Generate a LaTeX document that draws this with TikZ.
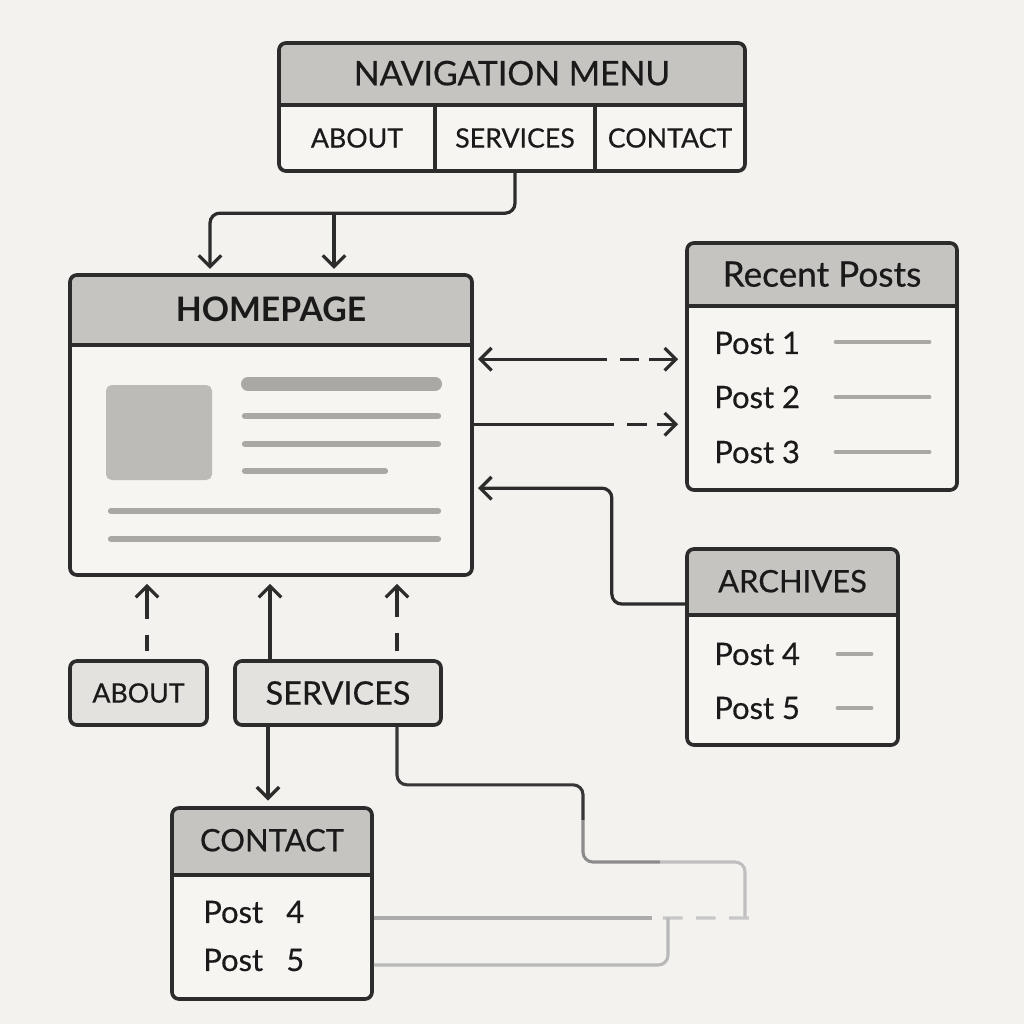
\documentclass[tikz,border=0pt]{standalone}
\usepackage{fontspec}
\setmainfont{Lato}[UprightFeatures={FakeBold=0.5}]
\usetikzlibrary{arrows.meta,calc}
\definecolor{paper}{HTML}{F4F2EE}
\definecolor{panelc}{HTML}{F7F5F2}
\definecolor{ink}{HTML}{2C2C2C}
\definecolor{textc}{HTML}{1A1A1A}
\definecolor{headc}{HTML}{C6C4C0}
\definecolor{tabc}{HTML}{E4E2DE}
\definecolor{blockc}{HTML}{BDBBB8}
\definecolor{barc}{HTML}{A9A8A5}
\begin{document}
\begin{tikzpicture}[x=0.025cm, y=-0.025cm,
  card/.style 2 args={draw=ink, line width=2.6pt, fill=panelc, rounded corners=5pt,
    minimum width=#1*0.025cm, minimum height=#2*0.025cm, inner sep=0pt},
  head/.style={path picture={
    \fill[headc, sharp corners] (path picture bounding box.north west) rectangle ([yshift=-#1*0.025cm]path picture bounding box.north east);
    \draw[ink, line width=2.6pt, sharp corners] ([yshift=-#1*0.025cm]path picture bounding box.north west) -- ([yshift=-#1*0.025cm]path picture bounding box.north east);}},
  cell/.style 2 args={minimum width=#1*0.025cm, minimum height=#2*0.025cm, inner sep=0pt},
  title/.style={font=\fontsize{#1}{#1}\selectfont, text=textc, inner sep=0pt},
  item/.style={font=\fontsize{22}{24}\selectfont, text=textc, inner sep=0pt, anchor=west},
  bar/.style={draw=barc, line width=#1, line cap=round},
  link/.style={draw=ink, line width=2.3pt, rounded corners=7pt},
  tip/.style={-{Straight Barb[length=8pt,width=16pt]}},
  faint/.style={line width=2.2pt, rounded corners=7pt}
]
\fill[paper] (0,0) rectangle (1024,1024);
\useasboundingbox (0,0) rectangle (1024,1024);

% navigation menu
\node[card={466}{128}, head=62] (nav) at (512,107) {};
\node[title=24] (nav-title) at ($(nav.north)+(0,32)$) {NAVIGATION MENU};
\node[cell={156}{66}, title=19] (nav-about) at (357,138) {ABOUT};
\node[cell={160}{66}, title=19] (nav-services) at (515,138) {SERVICES};
\node[cell={150}{66}, title=19] (nav-contact) at (670,138) {CONTACT};
\draw[ink, line width=2.6pt] (nav-about.north east) -- (nav-about.south east);
\draw[ink, line width=2.6pt] (nav-services.north east) -- (nav-services.south east);

% homepage
\node[card={402}{300}, head=70] (home) at (271,425) {};
\node[title=24, font=\fontsize{24}{24}\selectfont\bfseries] (home-title) at ($(home.north)+(0,36)$) {HOMEPAGE};
\fill[blockc, rounded corners=4pt] (106,385) rectangle (212,480);
\draw[bar=10pt] (248,384) -- (435,384);
\draw[bar=4.5pt] (245,416) -- (438,416);
\draw[bar=4.5pt] (245,444) -- (438,444);
\draw[bar=4.5pt] (245,471) -- (385,471);
\draw[bar=4.5pt] (111,511) -- (438,511);
\draw[bar=4.5pt] (111,539) -- (438,539);

% recent posts
\node[card={270}{247}, head=63] (recent) at (822,366.5) {};
\node[title=25] (recent-title) at ($(recent.north)+(0,33)$) {Recent Posts};
\node[item] (post1) at (714,343) {Post 1};
\node[item] (post2) at (714,397) {Post 2};
\node[item] (post3) at (714,452) {Post 3};
\foreach \y in {342,397,452}
  \draw[bar=3.5pt] (836,\y) -- (929,\y);

% archives
\node[card={211}{196}, head=66] (archives) at (792.5,647) {};
\node[title=22] (archives-title) at ($(archives.north)+(0,34)$) {ARCHIVES};
\node[item] (arch4) at (714,654) {Post 4};
\node[item] (arch5) at (714,708) {Post 5};
\foreach \y in {654,708}
  \draw[bar=3.5pt] (838,\y) -- (871,\y);

% contact
\node[card={200}{191}, head=67] (contact) at (272,903.5) {};
\node[title=22] (contact-title) at ($(contact.north)+(0,34)$) {CONTACT};
\node[item] (cont4) at (203,912) {Post\hspace{0.75em}4};
\node[item] (cont5) at (203,960) {Post\hspace{0.75em}5};

% small pages
\node[card={137}{64}, fill=tabc, title=19] (about) at (138.5,693) {ABOUT};
\node[card={206}{64}, fill=tabc, title=23] (services) at (338,693) {SERVICES};

% menu to homepage
\draw[link, tip, shorten >=3pt] (nav-services.south) |- ($(home.north)+(-61,-60)$) -- ($(home.north)+(-61,0)$);
\draw[link, tip, shorten >=3pt] ($(home.north)+(63,-60)$) -- ($(home.north)+(63,0)$);

% homepage and recent posts
\coordinate (r1) at ($(home.north east)+(0,86)$);
\coordinate (r2) at ($(home.north east)+(0,151)$);
\draw[link, {Straight Barb[length=8pt,width=16pt]}-{Straight Barb[length=8pt,width=16pt]}, shorten <=3pt, shorten >=5pt,
  dash pattern=on 89pt off 9pt on 14pt off 7pt on 60pt] (r1) -- (r1 -| recent.west);
\draw[link, tip, shorten >=5pt, dash pattern=on 100pt off 9pt on 14pt off 7pt on 60pt] (r2) -- (r2 -| recent.west);

% archives to homepage
\draw[link, tip, shorten >=3pt] ($(archives.west)+(0,-43)$) -| ($(home.north east)+(138,215)$) -- ($(home.north east)+(0,215)$);

% small pages to homepage
\coordinate (a1) at ($(about.north)+(8.5,0)$);
\coordinate (s1) at ($(services.north)+(-68,0)$);
\coordinate (s2) at ($(services.north)+(59,0)$);
\draw[link, tip, shorten <=5.7pt, shorten >=5pt, dash pattern=on 11.4pt off 11.4pt on 60pt] (a1) -- (a1 |- home.south);
\draw[link, tip, shorten >=5pt] (s1) -- (s1 |- home.south);
\draw[link, tip, shorten <=5.7pt, shorten >=5pt, dash pattern=on 13pt off 11.4pt on 60pt] (s2) -- (s2 |- home.south);

% services to contact
\coordinate (s3) at ($(services.south)+(-70,0)$);
\draw[link, tip, shorten >=4pt] (s3) -- (s3 |- contact.north);

% fading route
\coordinate (s4) at ($(services.south)+(59,0)$);
\coordinate (f1) at (583,820);
\coordinate (f2) at (660,862);
\coordinate (f3) at (745,917);
\draw[faint, draw=ink!95] (s4) -- ++(0,58) -| (f1);
\draw[faint, draw=black!45] (f1) |- (f2);
\draw[faint, draw=black!25] (f2) -| (f3);

\coordinate (c4) at ($(contact.east)+(0,14.5)$);
\coordinate (c5) at ($(contact.east)+(0,61.5)$);
\coordinate (j4) at (668,918);
\draw[faint, draw=black!33] (c4) -- ++(278,0) coordinate (c4end);
\draw[faint, draw=black!22, dash pattern=on 14pt off 9.6pt] ($(c4end)+(11,0)$) -- ($(f3)+(8,1)$);
\draw[faint, draw=black!28] (c5) -| (j4);
\end{tikzpicture}
\end{document}
